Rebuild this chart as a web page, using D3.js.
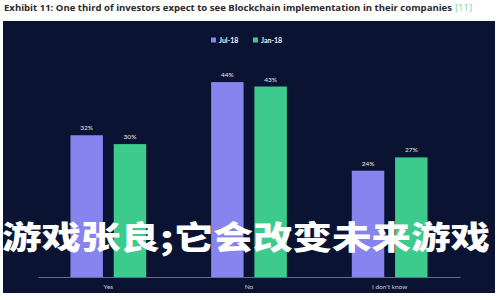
<!DOCTYPE html>
<html>
<head>
<meta charset="utf-8">
<script src="https://cdn.jsdelivr.net/npm/d3@7"></script>
<style>
    body { margin: 0; background: #fff; }
    svg { display: block; }
</style>
</head>
<body>
<div class="container"></div>
<script>
// survey answers and two survey waves
const answers = ['Yes', 'No', "I don't know"];
const waves = ['Jul-18', 'Jan-18'];
const jul18 = [32, 44, 24];
const jan18 = [30, 43, 27];

const titleText = 'Exhibit 11: One third of investors expect to see Blockchain implementation in their companies';
const titleRef = '[11]';
const overlayText = '游戏张良;它会改变未来游戏';

const width = 500;
const height = 300;
const colors = ['#8783ef', '#3ccb8d'];

const rows = answers.map((a, i) => ({answer: a, values: [jul18[i], jan18[i]]}));

const svg = d3.select('.container')
    .append('svg')
    .attr('width', width)
    .attr('height', height);

// title line above the dark panel
svg.append('text')
    .attr('x', 4)
    .attr('y', 11)
    .attr('textLength', 448)
    .attr('lengthAdjust', 'spacingAndGlyphs')
    .attr('font-family', '"Open Sans", Lato, sans-serif')
    .attr('font-weight', 'bold')
    .attr('font-size', 9.5)
    .attr('fill', '#2a2a2a')
    .text(titleText);
svg.append('text')
    .attr('x', 455)
    .attr('y', 11)
    .attr('font-family', '"Open Sans", Lato, sans-serif')
    .attr('font-size', 9.5)
    .attr('fill', '#6fd6ae')
    .text(titleRef);

// dark panel
svg.append('rect')
    .attr('x', 3)
    .attr('y', 21)
    .attr('width', 492)
    .attr('height', 272)
    .attr('fill', '#0a1331');

const x0 = d3.scaleBand().domain(answers).range([38, 460]).paddingInner(0).paddingOuter(0);
const x1 = d3.scaleBand().domain(waves).range([0, x0.bandwidth()]).paddingInner(0.25).paddingOuter(0.75);
const y = d3.scaleLinear().domain([0, 50]).range([277, 55.5]);

const groups = svg.selectAll('.group')
    .data(rows)
    .enter()
    .append('g')
    .attr('class', 'group')
    .attr('transform', d => `translate(${x0(d.answer)},0)`);

const cells = groups.selectAll('.bar')
    .data(d => d.values.map((v, i) => ({wave: waves[i], value: v, i})))
    .enter();

cells.append('rect')
    .attr('class', 'bar')
    .attr('x', d => x1(d.wave))
    .attr('y', d => y(d.value))
    .attr('width', x1.bandwidth())
    .attr('height', d => y(0) - y(d.value))
    .attr('fill', d => colors[d.i]);

cells.append('text')
    .attr('x', d => x1(d.wave) + x1.bandwidth() / 2)
    .attr('y', d => y(d.value) - 5)
    .attr('text-anchor', 'middle')
    .attr('font-family', 'Lato, sans-serif')
    .attr('font-size', 6.5)
    .attr('fill', '#e4e6f0')
    .text(d => d.value + '%');

// x axis
const xAxis = svg.append('g')
    .attr('transform', `translate(0,${y(0)})`)
    .call(d3.axisBottom(x0).tickSize(0).tickPadding(7));
xAxis.select('.domain').attr('stroke', '#7c84a6').attr('stroke-width', 0.8);
xAxis.selectAll('text')
    .attr('font-family', 'Lato, sans-serif')
    .attr('font-size', 6.5)
    .attr('fill', '#c9ccd8');

// legend
const legend = svg.append('g').attr('transform', 'translate(211,40)');
const legendX = [0, 42];
waves.forEach((w, i) => {
    const g = legend.append('g').attr('transform', `translate(${legendX[i]},0)`);
    g.append('rect').attr('x', 0).attr('y', -2.5).attr('width', 5).attr('height', 5).attr('fill', colors[i]);
    g.append('text')
        .attr('x', 8)
        .attr('y', 2.5)
        .attr('font-family', 'Lato, sans-serif')
        .attr('font-weight', 'bold')
        .attr('font-size', 7)
        .attr('fill', '#f0f1f6')
        .text(w);
});

// big overlay caption
svg.append('text')
    .attr('x', 2)
    .attr('y', 249)
    .attr('textLength', 488)
    .attr('lengthAdjust', 'spacingAndGlyphs')
    .attr('font-family', '"Noto Sans CJK SC", sans-serif')
    .attr('font-weight', 900)
    .attr('font-size', 32)
    .attr('fill', '#ffffff')
    .text(overlayText);
</script>
</body>
</html>
